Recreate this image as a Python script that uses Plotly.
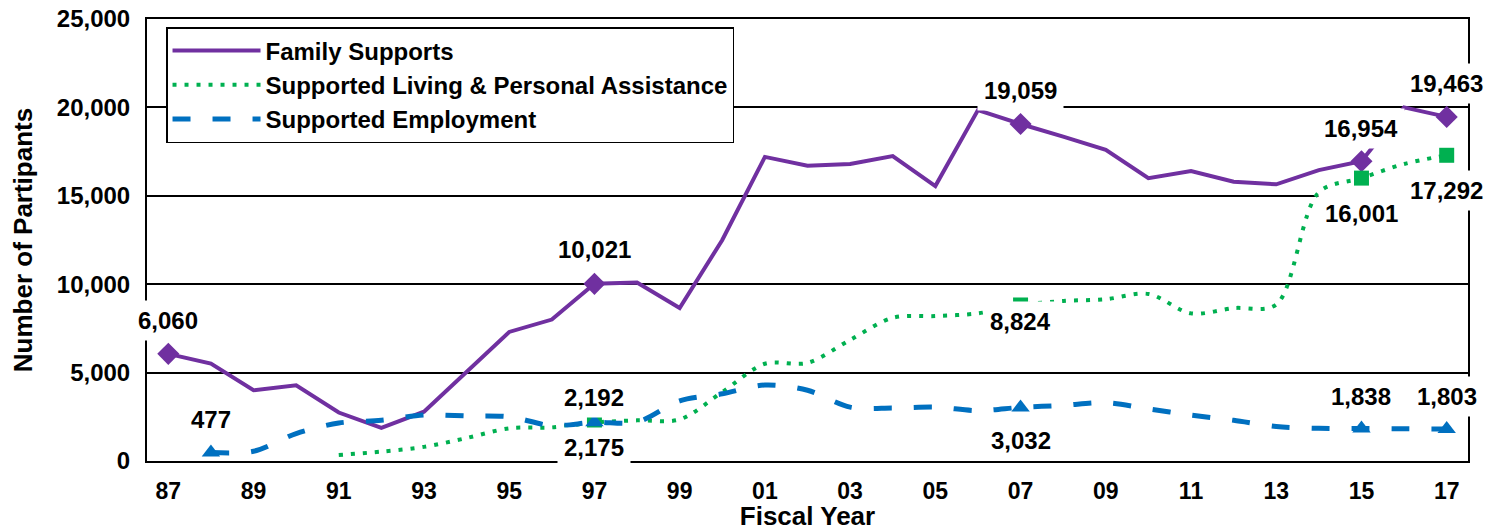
import plotly.graph_objects as go

years = list(range(1987, 2018))
tick_years = list(range(1987, 2018, 2))
tick_labels = ["87", "89", "91", "93", "95", "97", "99", "01", "03", "05", "07", "09", "11", "13", "15", "17"]

family = [6060, 5510, 4000, 4280, 2740, 1870, 2790, 5050, 7300, 8000, 10021, 10100, 8650, 12500,
          17200, 16700, 16800, 17250, 15550, 19850, 19059, 18350, 17600, 16000, 16400, 15800,
          15650, 16450, 16954, 20000, 19463]
living = [None, None, None, None, 340, 530, 800, 1300, 1850, 1900, 2175, 2300, 2350, 3900, 5500,
          5550, 6850, 8100, 8200, 8350, 8824, 9050, 9150, 9450, 8350, 8650, 8850, 15200, 16001,
          16800, 17292]
employment = [None, 477, 550, 1550, 2150, 2300, 2600, 2550, 2500, 2000, 2192, 2200, 3400, 3800,
              4300, 4000, 3050, 3000, 3050, 2850, 3032, 3150, 3300, 2950, 2600, 2300, 1950, 1850,
              1838, 1820, 1803]

series_names = ["Family Supports", "Supported Living & Personal Assistance", "Supported Employment"]
colors = ["#7030A0", "#00B050", "#0070C0"]

# labelled points (index into years) and pixel offsets of their labels
family_marks = [0, 10, 20, 28, 30]
family_shift = [33, 34, 34, 33, 33]
living_marks = [10, 20, 28, 30]
living_shift = [-25, -17, -35, -35]
employment_marks = [1, 10, 20, 28, 30]
employment_shift = [33, 25, -33, 32, 33]

FONT = "Liberation Sans, Arial, sans-serif"

fig = go.Figure()

fig.add_trace(go.Scatter(x=years, y=family, name=series_names[0], mode="lines",
                         line=dict(color=colors[0], width=4)))
fig.add_trace(go.Scatter(x=years, y=living, name=series_names[1], mode="lines",
                         line=dict(color=colors[1], width=4, dash="4px,8px", shape="spline", smoothing=0.9)))
fig.add_trace(go.Scatter(x=years, y=employment, name=series_names[2], mode="lines",
                         line=dict(color=colors[2], width=5, dash="18px,22px", shape="spline", smoothing=0.9)))

marker_specs = [
    (family, family_marks, "diamond", colors[0], 17),
    (living, living_marks, "square", colors[1], 15),
    (employment, employment_marks, "triangle-up", colors[2], 16),
]
for vals, marks, sym, col, sz in marker_specs:
    fig.add_trace(go.Scatter(x=[years[i] for i in marks], y=[vals[i] for i in marks],
                             mode="markers", showlegend=False,
                             marker=dict(symbol=sym, size=sz, color=col, line=dict(width=0))))

annotations = []
for vals, marks, shifts in [(family, family_marks, family_shift),
                            (living, living_marks, living_shift),
                            (employment, employment_marks, employment_shift)]:
    for i, s in zip(marks, shifts):
        annotations.append(dict(x=years[i], y=vals[i], xref="x", yref="y",
                                text=f"{vals[i]:,}", showarrow=False, yshift=s,
                                bgcolor="white", borderpad=6,
                                font=dict(family=FONT, size=24, color="black", weight="bold")))

fig.update_layout(
    width=1496, height=523,
    margin=dict(l=139, r=36, t=11, b=70, autoexpand=False),
    paper_bgcolor="white", plot_bgcolor="white",
    font=dict(family=FONT, size=24, color="black", weight="bold"),
    annotations=annotations,
    showlegend=True,
    legend=dict(x=0.0144, y=0.9819, xanchor="left", yanchor="top",
                bgcolor="white", bordercolor="black", borderwidth=1.5,
                font=dict(family=FONT, size=24, color="black", weight="bold"),
                itemwidth=88, tracegroupgap=0),
    xaxis=dict(range=[1986.5, 2017.5], tickvals=tick_years, ticktext=tick_labels,
               showgrid=False, showline=True, linecolor="black", linewidth=2, mirror=True,
               ticks="", ticklabelstandoff=8, zeroline=False, automargin=False,
               ticklabeloverflow="allow",
               title=dict(text="Fiscal Year", standoff=3,
                          font=dict(family=FONT, size=26, color="black", weight="bold")),
               tickfont=dict(family=FONT, size=23, color="black", weight="bold")),
    yaxis=dict(range=[0, 25000], tickvals=[0, 5000, 10000, 15000, 20000, 25000], tickformat=",",
               showgrid=True, gridcolor="black", gridwidth=1.5,
               showline=True, linecolor="black", linewidth=2, mirror=True,
               ticks="", ticklabelstandoff=10, zeroline=False, automargin=False,
               ticklabeloverflow="allow",
               title=dict(text="Number of Partipants", standoff=18,
                          font=dict(family=FONT, size=26, color="black", weight="bold")),
               tickfont=dict(family=FONT, size=24, color="black", weight="bold")),
)

fig.write_html("out.html")
